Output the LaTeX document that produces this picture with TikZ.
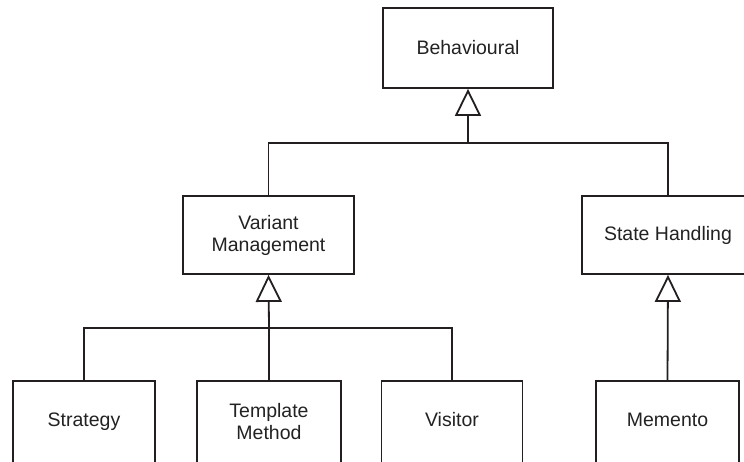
\documentclass[tikz,border=0pt]{standalone}
\usepackage{fontspec}
\setmainfont{Liberation Sans}
\usetikzlibrary{arrows.meta}
\definecolor{inkline}{HTML}{231F20}
\definecolor{inktext}{HTML}{222222}
\begin{document}
\begin{tikzpicture}[x=1pt,y=-1pt,
  line width=1.8pt,
  classbox/.style={draw=inkline, rectangle, align=center, inner sep=0pt,
    text=inktext, font=\fontsize{19.5}{22}\selectfont},
  link/.style={draw=inkline},
  inherit/.style={draw=inkline, -{Triangle[open,length=27pt,width=26pt,line width=1.8pt]}}]
  \useasboundingbox (0,0) rectangle (744,461);
  \clip (0,0) rectangle (744,461);

  % class boxes
  \node[classbox, minimum width=170pt, minimum height=80pt] (beh) at (468,48) {Behavioural};
  \node[classbox, minimum width=171pt, minimum height=78pt] (var) at (268.5,235) {Variant\\Management};
  \node[classbox, minimum width=172pt, minimum height=78pt] (sth) at (668,235) {State Handling};
  \node[classbox, minimum width=142pt, minimum height=82pt] (str) at (84,422) {Strategy};
  \node[classbox, minimum width=144pt, minimum height=82pt] (tpl) at (269,422) {Template\\Method};
  \node[classbox, minimum width=141pt, minimum height=82pt] (vis) at (452,422) {\strut Visitor};
  \node[classbox, minimum width=143pt, minimum height=82pt] (mem) at (667.5,422) {\strut Memento};

  % junction points of the generalisation trees
  \coordinate (jbeh) at (468,143);
  \coordinate (jvar) at (269,328);

  % Behavioural hierarchy
  \draw[link] (var.north) |- (jbeh) -| (sth.north);
  \draw[inherit] (jbeh) -- (beh.south);

  % Variant Management hierarchy
  \draw[link] (str.north) |- (jvar) -| (vis.north);
  \draw[link] (tpl.north) -- (jvar);
  \draw[inherit] (jvar) -- (var.south);

  % State Handling hierarchy
  \draw[inherit] (mem.north) -- (sth.south);
\end{tikzpicture}
\end{document}
